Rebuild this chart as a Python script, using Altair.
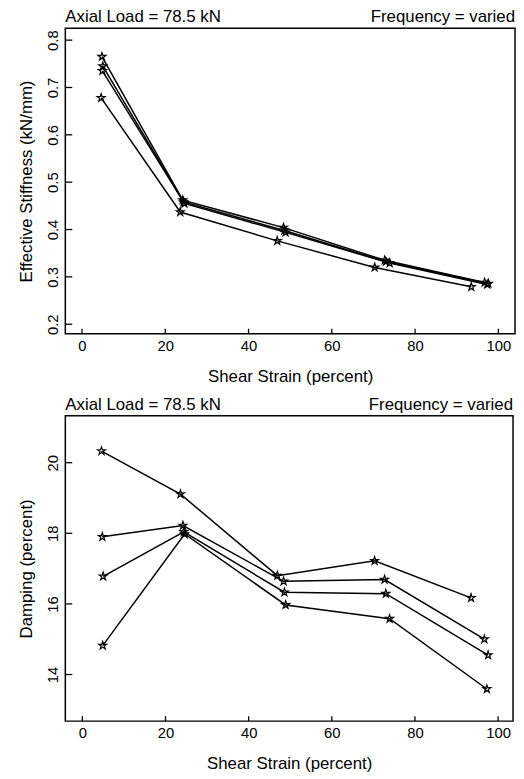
import altair as alt
import pandas as pd

# ---- data ----
series_names = ["Test 1", "Test 2", "Test 3", "Test 4"]
strain = [
    [4.6, 23.6, 46.9, 70.3, 93.5],
    [4.8, 24.2, 48.4, 72.7, 96.7],
    [5.0, 24.4, 48.6, 73.0, 97.6],
    [4.9, 24.6, 48.9, 73.9, 97.3],
]
stiffness = [
    [0.678, 0.437, 0.376, 0.320, 0.279],
    [0.765, 0.462, 0.404, 0.335, 0.288],
    [0.745, 0.458, 0.398, 0.332, 0.286],
    [0.735, 0.455, 0.394, 0.329, 0.284],
]
damping = [
    [20.33, 19.11, 16.80, 17.22, 16.17],
    [17.90, 18.22, 16.64, 16.69, 15.00],
    [16.78, 18.04, 16.33, 16.29, 14.55],
    [14.82, 17.98, 15.97, 15.58, 13.59],
]
x_ticks = [0, 20, 40, 60, 80, 100]
stiff_ticks = [0.2, 0.3, 0.4, 0.5, 0.6, 0.7, 0.8]
damp_ticks = [14, 16, 18, 20]
left_note = "Axial Load = 78.5 kN"
right_note = "Frequency = varied"

rows = []
for name, xs, ks, ds in zip(series_names, strain, stiffness, damping):
    for x, k, d in zip(xs, ks, ds):
        rows.append({"series": name, "strain": x, "stiff": k, "damp": d})
df = pd.DataFrame(rows)

FONT = "Liberation Sans"
STAR = ("M0,-1 L0.225,-0.309 L0.951,-0.309 L0.363,0.118 L0.588,0.809 "
        "L0,0.382 L-0.588,0.809 L-0.363,0.118 L-0.951,-0.309 L-0.225,-0.309 Z")


def panel(field, ytitle, ydomain, yticks, yfmt, xdomain, W, H):
    xs = alt.Scale(domain=xdomain, nice=False, zero=False)
    ys = alt.Scale(domain=ydomain, nice=False, zero=False)
    xax = alt.Axis(values=x_ticks, title="Shear Strain (percent)", labelPadding=5,
                   titlePadding=15)
    yax = alt.Axis(values=yticks, format=yfmt, title=ytitle, labelAngle=270,
                   labelAlign="center", labelBaseline="bottom", labelPadding=5,
                   titlePadding=10)
    base = alt.Chart(df)
    line = base.mark_line(color="black", strokeWidth=1.5).encode(
        x=alt.X("strain:Q", scale=xs, axis=xax),
        y=alt.Y(f"{field}:Q", scale=ys, axis=yax),
        detail="series:N",
    )
    pts = base.mark_point(shape=STAR, size=70, filled=False, color="black",
                          strokeWidth=1.2, opacity=1).encode(
        x=alt.X("strain:Q", scale=xs, axis=xax),
        y=alt.Y(f"{field}:Q", scale=ys, axis=yax),
    )
    xt = alt.Chart(pd.DataFrame({"t": x_ticks})).mark_rule(
        color="black", strokeWidth=1.3).encode(
        x=alt.X("t:Q", scale=xs, axis=xax),
        y=alt.value(H - 5), y2=alt.value(H),
    )
    yt = alt.Chart(pd.DataFrame({"t": yticks})).mark_rule(
        color="black", strokeWidth=1.3).encode(
        y=alt.Y("t:Q", scale=ys, axis=yax),
        x=alt.value(0), x2=alt.value(7),
    )
    note_l = alt.Chart(pd.DataFrame({"s": [left_note]})).mark_text(
        align="left", baseline="alphabetic", font=FONT, fontSize=17, color="black").encode(
        text="s:N", x=alt.value(0), y=alt.value(-6))
    note_r = alt.Chart(pd.DataFrame({"s": [right_note]})).mark_text(
        align="right", baseline="alphabetic", font=FONT, fontSize=17, color="black").encode(
        text="s:N", x=alt.value(W), y=alt.value(-6))
    return alt.layer(line, pts, xt, yt, note_l, note_r).properties(width=W, height=H)


top = panel("stiff", "Effective Stiffness (kN/mm)", [0.18, 0.825], stiff_ticks, ".1f",
            [-4, 104], 455, 309)
bottom = panel("damp", "Damping (percent)", [12.68, 21.33], damp_ticks, "d",
               [-4.1, 103.6], 453, 309)

chart = alt.vconcat(top, bottom, spacing=10).properties(
    padding={"left": 9, "top": -5, "right": 0, "bottom": 0},
    background="white",
).configure_view(
    stroke="black", strokeWidth=1.5
).configure_axis(
    grid=False, domain=False, ticks=False,
    labelFont=FONT, titleFont=FONT, labelFontSize=15, titleFontSize=17,
    labelColor="black", titleColor="black", titleFontWeight="normal",
)

chart.save("out.html", embed_options={"renderer": "svg", "actions": False})
